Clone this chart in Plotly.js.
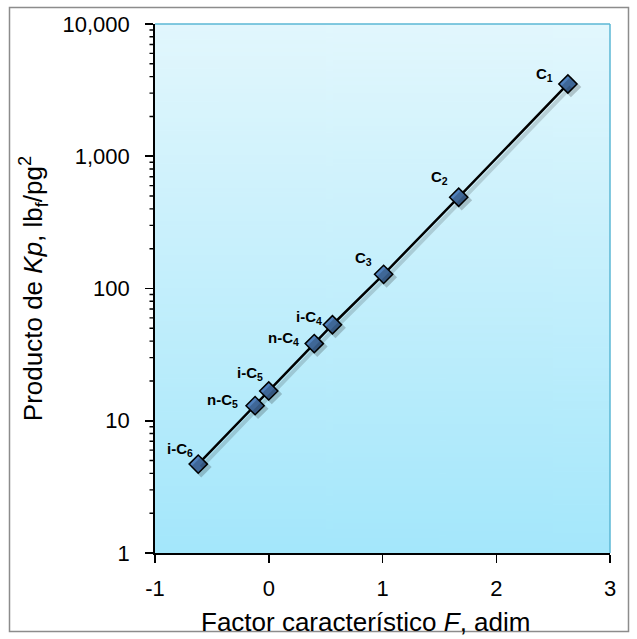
<!DOCTYPE html>
<html>
<head>
<meta charset="utf-8">
<script src="https://cdn.plot.ly/plotly-3.0.1.min.js"></script>
<style>html,body{margin:0;padding:0;background:#fff;}#chart{width:637px;height:639px;}</style>
</head>
<body>
<div id="chart"></div>
<script>
// ---- data ----
const components = ["i-C<sub>6</sub>", "n-C<sub>5</sub>", "i-C<sub>5</sub>", "n-C<sub>4</sub>", "i-C<sub>4</sub>", "C<sub>3</sub>", "C<sub>2</sub>", "C<sub>1</sub>"];
const factorF = [-0.62, -0.12, 0.0, 0.40, 0.56, 1.01, 1.67, 2.63];
const productKp = [4.7, 13.0, 16.8, 38.3, 53.2, 128, 490, 3520];
const yTickVals = [1, 10, 100, 1000, 10000];
const yTickText = ["1", "10", "100", "1,000", "10,000"];
const xTickVals = [-1, 0, 1, 2, 3];

// ---- styling / label offsets (pixels) ----
const labelOffsets = [[-3,-15],[-15,-5],[-4,-17],[-13,-5],[-8,-7],[-10,-16],[-9,-20],[-13,-9]];

const W = 637, H = 639;
const M = {l:155, r:27, t:24, b:86};
const pw = W - M.l - M.r, ph = H - M.t - M.b;
const XR = [-1, 3], YR = [0, 4];

// gradient background for plot area
const cv = document.createElement('canvas');
cv.width = 4; cv.height = 256;
const ctx = cv.getContext('2d');
const g = ctx.createLinearGradient(0,0,0,256);
g.addColorStop(0,'#e2f7fd');
g.addColorStop(1,'#a4e7fb');
ctx.fillStyle = g; ctx.fillRect(0,0,4,256);
const gradURL = cv.toDataURL('image/png');

// shadow: same data on overlay axes shifted by a few pixels
const sdx = 3, sdy = 3;
const xShift = sdx / pw * (XR[1] - XR[0]);
const yShift = sdy / ph * (YR[1] - YR[0]);
const shadow = {
  x: factorF, y: productKp, xaxis: 'x2', yaxis: 'y2', type: 'scatter', mode: 'lines+markers',
  line: {color: 'rgba(0,0,0,0.15)', width: 4},
  marker: {symbol: 'diamond', size: 16, color: 'rgba(0,0,0,0.2)', line: {width: 0}},
  hoverinfo: 'skip', showlegend: false
};
const trace = {
  x: factorF, y: productKp, type: 'scatter', mode: 'lines+markers',
  line: {color: '#000', width: 2.5},
  marker: {symbol: 'diamond', size: 14, color: '#4f81bd', line: {color: '#000', width: 1.5}},
  hoverinfo: 'skip', showlegend: false
};

// minor ticks of the log axis (2..9 in each decade)
const minorVals = [];
for (let d = 0; d < 4; d++) for (let k = 2; k <= 9; k++) minorVals.push(k * Math.pow(10, d));

const FONT = 'Liberation Sans, Arial, sans-serif';
const annotations = components.map((c, i) => ({
  x: factorF[i], y: Math.log10(productKp[i]), xref: 'x', yref: 'y',
  text: '<b>' + c + '</b>', showarrow: false,
  xanchor: 'right', yanchor: 'middle',
  xshift: labelOffsets[i][0], yshift: -labelOffsets[i][1],
  font: {family: FONT, size: 15, color: '#000'}
}));
annotations.push({
  xref: 'paper', yref: 'paper', x: (365 - M.l) / pw, y: -(622 - (M.t + ph)) / ph,
  xanchor: 'center', yanchor: 'middle', showarrow: false,
  text: 'Factor característico <i>F</i>, adim',
  font: {family: FONT, size: 26, color: '#000'}
});
// minor ticks drawn as short arrow-less annotation lines from the axis outward
minorVals.forEach(v => annotations.push({
  x: XR[0], y: Math.log10(v), xref: 'x', yref: 'y', text: '',
  showarrow: true, arrowhead: 0, arrowwidth: 1.4, arrowcolor: '#000',
  ax: -7, ay: 0, standoff: 0, startstandoff: 0
}));

const px2x = p => (p - M.l) / pw;
const py2y = p => (M.t + ph - p) / ph;

const layout = {
  width: W, height: H,
  margin: M,
  paper_bgcolor: '#fff',
  plot_bgcolor: 'rgba(0,0,0,0)',
  font: {family: FONT, color: '#000'},
  images: [{source: gradURL, xref: 'paper', yref: 'paper', x: 0, y: 1, sizex: 1, sizey: 1,
            sizing: 'stretch', layer: 'below', xanchor: 'left', yanchor: 'top'}],
  xaxis: {
    range: XR, tickvals: xTickVals, ticktext: xTickVals.map(String),
    ticks: 'outside', ticklen: 8, tickwidth: 1.5, tickcolor: '#000',
    showline: true, linecolor: '#000', linewidth: 1.5, mirror: false,
    showgrid: false, zeroline: false,
    tickfont: {size: 22}, ticklabelstandoff: 7
  },
  yaxis: {
    type: 'log', range: YR, tickvals: yTickVals, ticktext: yTickText,
    ticks: 'outside', ticklen: 8, tickwidth: 1.8, tickcolor: '#000',
    showline: true, linecolor: '#000', linewidth: 1.8,
    showgrid: false, zeroline: false,
    tickfont: {size: 22}, ticklabelstandoff: 11,
    title: {text: 'Producto de <i>Kp</i>, lb<sub>f</sub>/pg<sup>2</sup>', font: {size: 26}, standoff: 12}
  },
  xaxis2: {
    range: [XR[0] - xShift, XR[1] - xShift], overlaying: 'x', anchor: 'y',
    visible: false, showgrid: false, zeroline: false
  },
  yaxis2: {
    type: 'log', range: [YR[0] + yShift, YR[1] + yShift], overlaying: 'y', anchor: 'x',
    visible: false, showgrid: false, zeroline: false
  },
  shapes: [
    {type: 'line', xref: 'paper', yref: 'paper', x0: 0, x1: 1, y0: 1, y1: 1, line: {color: '#5bb7d5', width: 1.5}},
    {type: 'line', xref: 'paper', yref: 'paper', x0: 1, x1: 1, y0: 0, y1: 1, line: {color: '#5bb7d5', width: 1.5}},
    {type: 'rect', xref: 'paper', yref: 'paper', x0: px2x(9.5), x1: px2x(628.5), y0: py2y(631.5), y1: py2y(7.5),
     line: {color: '#8c8c8c', width: 1.5}, fillcolor: 'rgba(0,0,0,0)', layer: 'below'}
  ],
  annotations: annotations
};

Plotly.newPlot('chart', [shadow, trace], layout, {displayModeBar: false, staticPlot: true});
</script>
</body>
</html>
